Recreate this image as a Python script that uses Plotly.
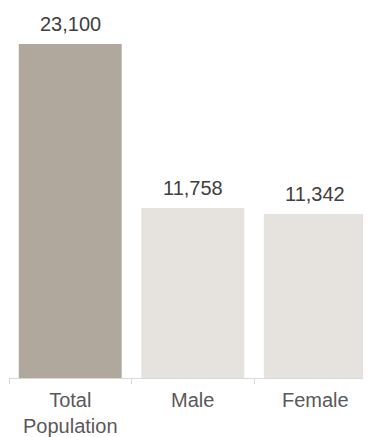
import plotly.graph_objects as go

categories = ["Total<br>Population", "Male", "Female"]
values = [23100, 11758, 11342]
value_labels = ["23,100", "11,758", "11,342"]
bar_colors = ["#B0A89D", "#E6E2DE", "#E6E2DE"]

FONT = "Arial, Liberation Sans, sans-serif"

fig = go.Figure(
    go.Bar(
        x=categories,
        y=values,
        marker=dict(color=bar_colors, line=dict(width=0)),
        hoverinfo="skip",
    )
)

for c, v, t in zip(categories, values, value_labels):
    fig.add_annotation(
        x=c, y=v, text=t, showarrow=False,
        yanchor="bottom", xanchor="center", yshift=7,
        font=dict(family=FONT, size=20, color="#404040"),
    )

# the page body adds an 8px offset, so the figure is sized to fill the rest
fig.update_layout(
    width=363, height=429,
    margin=dict(l=1, r=0, t=9, b=59),
    paper_bgcolor="white", plot_bgcolor="white",
    bargap=0.16,
    showlegend=False,
    xaxis=dict(
        range=[-0.5, 2.455],
        automargin=False,
        showline=True, linecolor="#D9D9D9", linewidth=1,
        ticks="outside", ticklen=5, tickcolor="#D9D9D9",
        tickson="boundaries",
        ticklabelstandoff=4,
        showgrid=False, zeroline=False,
        tickfont=dict(family=FONT, size=20, color="#595959"),
    ),
    yaxis=dict(
        range=[0, 24967], visible=False, showgrid=False, zeroline=False,
    ),
)

fig.write_html("out.html")
